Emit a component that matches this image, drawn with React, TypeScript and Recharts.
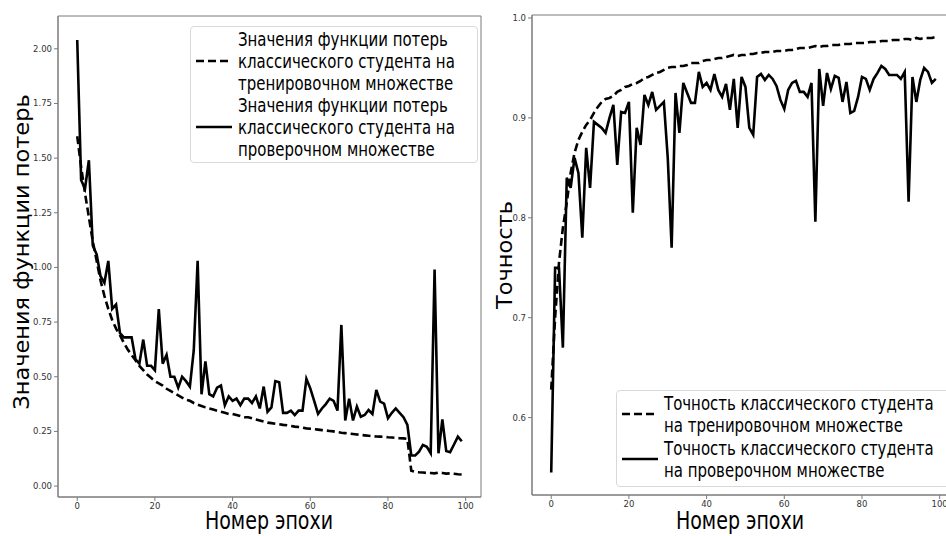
import React from 'react';
import {
  LineChart,
  Line,
  XAxis,
  YAxis,
  ReferenceArea,
} from 'recharts';

// epochs 0..99
const epochs = Array.from({ length: 100 }, (_, i) => i);

const trainLoss = [
  1.60, 1.46, 1.34, 1.23, 1.12, 1.03, 0.94, 0.87, 0.81, 0.76,
  0.72, 0.69, 0.655, 0.625, 0.60, 0.575, 0.55, 0.53, 0.51, 0.495,
  0.48, 0.47, 0.46, 0.445, 0.435, 0.425, 0.415, 0.405, 0.395, 0.39,
  0.38, 0.372, 0.366, 0.36, 0.355, 0.35, 0.345, 0.34, 0.335, 0.33,
  0.33, 0.325, 0.32, 0.315, 0.315, 0.31, 0.305, 0.30, 0.295, 0.29,
  0.288, 0.285, 0.283, 0.28, 0.278, 0.275, 0.272, 0.27, 0.267, 0.264,
  0.262, 0.26, 0.258, 0.256, 0.254, 0.252, 0.25, 0.247, 0.244, 0.242,
  0.24, 0.238, 0.236, 0.234, 0.232, 0.23, 0.228, 0.227, 0.226, 0.225,
  0.223, 0.222, 0.22, 0.219, 0.218, 0.216, 0.07, 0.065, 0.063, 0.062,
  0.06, 0.06, 0.058, 0.062, 0.06, 0.057, 0.058, 0.056, 0.054, 0.053,
];

const valLoss = [
  2.04, 1.40, 1.36, 1.49, 1.10, 1.06, 0.96, 0.93, 1.03, 0.81,
  0.83, 0.70, 0.68, 0.68, 0.68, 0.58, 0.56, 0.67, 0.55, 0.55,
  0.53, 0.81, 0.56, 0.60, 0.50, 0.50, 0.45, 0.50, 0.48, 0.455,
  0.62, 1.03, 0.42, 0.57, 0.42, 0.41, 0.45, 0.46, 0.37, 0.41,
  0.39, 0.40, 0.37, 0.40, 0.40, 0.38, 0.41, 0.355, 0.455, 0.34,
  0.36, 0.48, 0.475, 0.335, 0.335, 0.345, 0.325, 0.345, 0.345, 0.49,
  0.447, 0.39, 0.33, 0.355, 0.375, 0.40, 0.39, 0.345, 0.737, 0.30,
  0.40, 0.30, 0.363, 0.317, 0.325, 0.348, 0.33, 0.44, 0.386, 0.377,
  0.31, 0.335, 0.355, 0.335, 0.315, 0.28, 0.14, 0.14, 0.157, 0.188,
  0.18, 0.15, 0.99, 0.15, 0.305, 0.16, 0.155, 0.19, 0.226, 0.205,
];

const trainAcc = [
  0.628, 0.70, 0.755, 0.79, 0.815, 0.845, 0.865, 0.878, 0.886, 0.893,
  0.898, 0.905, 0.911, 0.916, 0.919, 0.92, 0.922, 0.926, 0.928, 0.931,
  0.932, 0.934, 0.935, 0.937, 0.94, 0.941, 0.943, 0.945, 0.946, 0.948,
  0.95, 0.951, 0.951, 0.952, 0.952, 0.953, 0.955, 0.955, 0.955, 0.957,
  0.958, 0.958, 0.959, 0.96, 0.96, 0.961, 0.962, 0.963, 0.962, 0.963,
  0.963, 0.964, 0.964, 0.965, 0.965, 0.966, 0.966, 0.966, 0.967, 0.967,
  0.967, 0.968, 0.968, 0.969, 0.97, 0.97, 0.97, 0.971, 0.972, 0.971,
  0.972, 0.972, 0.973, 0.973, 0.973, 0.974, 0.974, 0.974, 0.975, 0.975,
  0.975, 0.975, 0.976, 0.976, 0.976, 0.977, 0.977, 0.977, 0.978, 0.978,
  0.978, 0.979, 0.979, 0.978, 0.98, 0.979, 0.98, 0.98, 0.98, 0.981,
];

const valAcc = [
  0.545, 0.75, 0.75, 0.67, 0.84, 0.83, 0.86, 0.845, 0.78, 0.87,
  0.83, 0.896, 0.893, 0.89, 0.885, 0.90, 0.913, 0.853, 0.906, 0.905,
  0.916, 0.805, 0.89, 0.873, 0.923, 0.913, 0.926, 0.908, 0.912, 0.916,
  0.86, 0.77, 0.925, 0.885, 0.935, 0.925, 0.915, 0.915, 0.946, 0.931,
  0.935, 0.928, 0.944, 0.928, 0.921, 0.934, 0.908, 0.939, 0.89, 0.941,
  0.931, 0.89, 0.883, 0.941, 0.944, 0.938, 0.943, 0.939, 0.932, 0.918,
  0.909, 0.928, 0.935, 0.937, 0.926, 0.926, 0.921, 0.935, 0.796, 0.949,
  0.912, 0.945, 0.929, 0.942, 0.94, 0.916, 0.936, 0.905, 0.907, 0.921,
  0.941, 0.939, 0.928, 0.939, 0.945, 0.952, 0.949, 0.943, 0.943, 0.943,
  0.939, 0.946, 0.816, 0.941, 0.916, 0.938, 0.95, 0.946, 0.935, 0.939,
];

const xTicks = [0, 20, 40, 60, 80, 100];
const lossTicks = [0, 0.25, 0.5, 0.75, 1.0, 1.25, 1.5, 1.75, 2.0];
const accTicks = [0.6, 0.7, 0.8, 0.9, 1.0];

const lossLegend = [
  { lines: ['Значения функции потерь', 'классического студента на', 'тренировочном множестве'], dash: '8 4' },
  { lines: ['Значения функции потерь', 'классического студента на', 'проверочном множестве'], dash: undefined },
];
const accLegend = [
  { lines: ['Точность классического студента', 'на тренировочном множестве'], dash: '8 4' },
  { lines: ['Точность классического студента', 'на проверочном множестве'], dash: undefined },
];

const lossData = epochs.map((e, i) => ({ epoch: e, train: trainLoss[i], val: valLoss[i] }));
const accData = epochs.map((e, i) => ({ epoch: e, train: trainAcc[i], val: valAcc[i] }));

const FONT = '"DejaVu Sans", sans-serif';
const COND = '"DejaVu Sans Condensed", "DejaVu Sans", sans-serif';
const X_DOMAIN: [number, number] = [-4.95, 103.95];
const SPINE = '#7a7a7a';
const tickStyle = { fontSize: 8.5, fill: '#333', fontFamily: FONT };

type Item = { lines: string[]; dash?: string };

function LegendBox({ items, left, top, width, height, gap }: { items: Item[]; left: number; top: number; width: number; height: number; gap: number }) {
  return (
    <div
      style={{
        position: 'absolute',
        left,
        top,
        width,
        height,
        boxSizing: 'border-box',
        background: '#fff',
        border: '1px solid #d9d9d9',
        borderRadius: 4,
        padding: '1px 0 0 4px',
      }}
    >
      {items.map((it, k) => (
        <div key={k} style={{ display: 'flex', alignItems: 'center', marginTop: k === 0 ? 0 : gap }}>
          <svg width={38} height={10} style={{ flex: 'none', marginRight: 5 }}>
            <line x1={1} y1={5} x2={37} y2={5} stroke="#000" strokeWidth={2.6} strokeDasharray={it.dash} />
          </svg>
          <div
            style={{
              fontFamily: COND,
              fontSize: 19,
              lineHeight: '22px',
              whiteSpace: 'pre',
              transform: 'scaleX(0.875)',
              transformOrigin: 'left center',
            }}
          >
            {it.lines.join('\n')}
          </div>
        </div>
      ))}
    </div>
  );
}

function AxisTitle({ text, x, y, rotate, size }: { text: string; x: number; y: number; rotate?: boolean; size: number }) {
  return (
    <div
      style={{
        position: 'absolute',
        left: x,
        top: y,
        transform: `translate(-50%, -50%)${rotate ? ' rotate(-90deg) scaleY(0.88)' : ' scaleX(0.88)'}`,
        whiteSpace: 'nowrap',
        fontFamily: COND,
        fontSize: size,
        lineHeight: 1.15,
        color: '#000',
      }}
    >
      {text}
    </div>
  );
}

export default function App() {
  return (
    <div style={{ position: 'absolute', left: 0, top: 0, width: 946, height: 536, overflow: 'hidden', background: '#fff' }}>
      {/* left: loss */}
      <div style={{ position: 'absolute', left: 0, top: 0 }}>
        <LineChart width={490} height={536} data={lossData} margin={{ top: 16, right: 9, left: 0, bottom: 0 }}>
          <XAxis
            dataKey="epoch"
            type="number"
            domain={X_DOMAIN}
            ticks={xTicks}
            height={39}
            tick={tickStyle}
            tickSize={4}
            stroke={SPINE}
            allowDataOverflow
          />
          <YAxis
            type="number"
            domain={[-0.05, 2.15]}
            ticks={lossTicks}
            width={58}
            tick={tickStyle}
            tickSize={4}
            tickFormatter={(v: number) => v.toFixed(2)}
            stroke={SPINE}
            allowDataOverflow
          />
          <ReferenceArea x1={X_DOMAIN[0]} x2={X_DOMAIN[1]} y1={-0.05} y2={2.15} fill="none" stroke={SPINE} />
          <Line type="linear" dataKey="train" stroke="#000" strokeWidth={2.6} strokeDasharray="8 4" dot={false} isAnimationActive={false} />
          <Line type="linear" dataKey="val" stroke="#000" strokeWidth={2.6} dot={false} isAnimationActive={false} />
        </LineChart>
      </div>

      {/* right: accuracy */}
      <div style={{ position: 'absolute', left: 492, top: 0 }}>
        <LineChart width={473} height={536} data={accData} margin={{ top: 15, right: 10, left: 0, bottom: 0 }}>
          <XAxis
            dataKey="epoch"
            type="number"
            domain={X_DOMAIN}
            ticks={xTicks}
            height={41}
            tick={tickStyle}
            tickSize={4}
            stroke={SPINE}
            allowDataOverflow
          />
          <YAxis
            type="number"
            domain={[0.5225, 1.003]}
            ticks={accTicks}
            width={40}
            tick={tickStyle}
            tickSize={4}
            tickFormatter={(v: number) => v.toFixed(1)}
            stroke={SPINE}
            allowDataOverflow
          />
          <ReferenceArea x1={X_DOMAIN[0]} x2={X_DOMAIN[1]} y1={0.5225} y2={1.003} fill="none" stroke={SPINE} />
          <Line type="linear" dataKey="train" stroke="#000" strokeWidth={2.6} strokeDasharray="8 4" dot={false} isAnimationActive={false} />
          <Line type="linear" dataKey="val" stroke="#000" strokeWidth={2.6} dot={false} isAnimationActive={false} />
        </LineChart>
      </div>

      <LegendBox items={lossLegend} left={190} top={26} width={288} height={137} gap={0} />
      <LegendBox items={accLegend} left={616} top={390} width={340} height={97} gap={1} />

      <AxisTitle text="Значения функции потерь" x={22} y={252} size={25} rotate />
      <AxisTitle text="Номер эпохи" x={269} y={522} size={24} />
      <AxisTitle text="Точность" x={505} y={255} size={25} rotate />
      <AxisTitle text="Номер эпохи" x={740} y={522} size={24} />
    </div>
  );
}
